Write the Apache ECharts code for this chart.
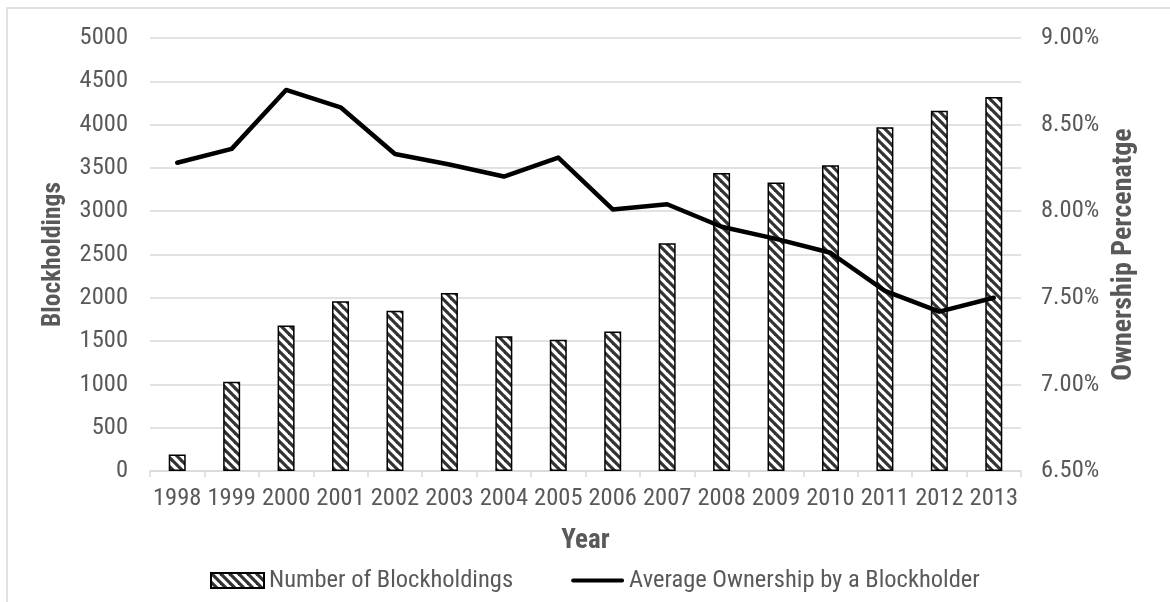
<!DOCTYPE html>
<html>
<head>
<meta charset="utf-8">
<title>Blockholdings and Average Ownership, 1998–2013</title>
<script src="https://cdn.jsdelivr.net/npm/echarts@6/dist/echarts.min.js"></script>
<style>
  html, body { margin: 0; padding: 0; background: #ffffff; }
  #chart { width: 1170px; height: 602px; }
</style>
</head>
<body>
<div id="chart"></div>
<script>
// Year categories on the x axis
const years = ['1998', '1999', '2000', '2001', '2002', '2003', '2004', '2005',
               '2006', '2007', '2008', '2009', '2010', '2011', '2012', '2013'];

// Number of blockholdings per year (left axis)
const blockholdings = [190, 1030, 1680, 1960, 1850, 2055, 1555, 1515,
                       1610, 2630, 3440, 3330, 3530, 3970, 4160, 4320];

// Average ownership by a blockholder, in percent (right axis)
const avgOwnership = [8.28, 8.36, 8.70, 8.60, 8.33, 8.27, 8.20, 8.31,
                      8.01, 8.04, 7.91, 7.84, 7.76, 7.54, 7.42, 7.50];

const FONT = "'Roboto Condensed', 'Liberation Sans', sans-serif";
const TEXT = '#595959';
const GRID = '#d9d9d9';
const LABEL_SIZE = 24.5;

// Wide downward-diagonal hatch used to fill the bars
function hatchPattern() {
  const p = 9;
  const c = document.createElement('canvas');
  c.width = p; c.height = p;
  const g = c.getContext('2d');
  g.fillStyle = '#ffffff';
  g.fillRect(0, 0, p, p);
  g.strokeStyle = '#333333';
  g.lineWidth = 3.2;
  for (let k = -1; k <= 1; k++) {
    g.beginPath();
    g.moveTo(-2, k * p - 2);
    g.lineTo(p + 2, k * p + p + 2);
    g.stroke();
  }
  return { image: c, repeat: 'repeat' };
}

// Legend key for the line series: a thick bar across the middle of the key box
const LINE_KEY = 'path://M0,0L0.01,0ZM2,5.5L51,5.5A2,2,0,0,1,51,9.5L2,9.5A2,2,0,0,1,2,5.5ZM0,15L0.01,15Z';

const chart = echarts.init(document.getElementById('chart'), null, { renderer: 'canvas' });

chart.setOption({
  backgroundColor: '#ffffff',
  animation: false,
  textStyle: { fontFamily: FONT, color: TEXT },
  graphic: [{
    type: 'rect',
    silent: true,
    shape: { x: 7, y: 8, width: 1300, height: 800 },
    style: { fill: 'none', stroke: GRID, lineWidth: 1.5 }
  }],
  grid: { left: 150, right: 149, top: 38, bottom: 131, containLabel: false },
  legend: {
    top: 563,
    left: 205,
    itemWidth: 53,
    itemHeight: 15,
    itemGap: 58,
    textStyle: { fontFamily: FONT, fontSize: LABEL_SIZE, color: TEXT },
    data: [
      { name: 'Number of Blockholdings', icon: 'rect' },
      { name: 'Average Ownership by a Blockholder', icon: LINE_KEY }
    ]
  },
  xAxis: {
    type: 'category',
    data: years,
    boundaryGap: true,
    name: 'Year',
    nameLocation: 'middle',
    nameGap: 57,
    nameTextStyle: { fontFamily: FONT, fontSize: 27, fontWeight: 'bold', color: TEXT },
    axisLine: { lineStyle: { color: GRID, width: 1.5 } },
    axisTick: { show: true, length: 6, lineStyle: { color: GRID, width: 1.5 } },
    axisLabel: { margin: 15, fontFamily: FONT, fontSize: LABEL_SIZE, color: TEXT, interval: 0 }
  },
  yAxis: [{
    type: 'value',
    min: 0,
    max: 5000,
    interval: 500,
    name: 'Blockholdings',
    nameLocation: 'middle',
    nameRotate: 90,
    nameGap: 83,
    nameTextStyle: { fontFamily: FONT, fontSize: 25.5, fontWeight: 'bold', color: TEXT },
    axisLine: { show: false },
    axisTick: { show: false },
    splitLine: { lineStyle: { color: GRID, width: 1.5 } },
    axisLabel: { margin: 22, fontFamily: FONT, fontSize: LABEL_SIZE, color: TEXT, formatter: v => String(v) }
  }, {
    type: 'value',
    position: 'right',
    min: 6.5,
    max: 9,
    interval: 0.5,
    name: 'Ownership Percenatge',
    nameLocation: 'middle',
    nameRotate: 90,
    nameGap: 89,
    nameTextStyle: { fontFamily: FONT, fontSize: 28, fontWeight: 'bold', color: TEXT },
    axisLine: { show: false },
    axisTick: { show: false },
    splitLine: { show: false },
    axisLabel: {
      margin: 20, fontFamily: FONT, fontSize: LABEL_SIZE, color: TEXT,
      formatter: v => v.toFixed(2) + '%'
    }
  }],
  series: [{
    name: 'Number of Blockholdings',
    type: 'bar',
    yAxisIndex: 0,
    data: blockholdings,
    barWidth: 17,
    itemStyle: { color: hatchPattern(), borderColor: '#000000', borderWidth: 1.5 }
  }, {
    name: 'Average Ownership by a Blockholder',
    type: 'line',
    yAxisIndex: 1,
    data: avgOwnership,
    symbol: 'none',
    z: 5,
    lineStyle: { color: '#000000', width: 4.5, cap: 'round', join: 'round' },
    itemStyle: { color: '#000000' }
  }]
});
</script>
</body>
</html>
